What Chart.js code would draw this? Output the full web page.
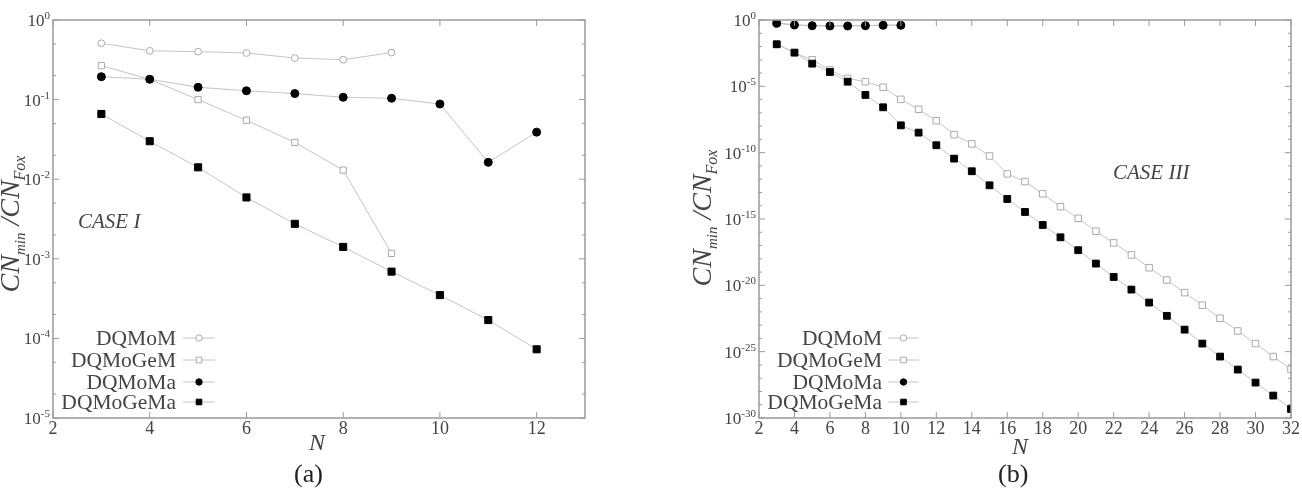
<!DOCTYPE html>
<html>
<head>
<meta charset="utf-8">
<script src="https://cdn.jsdelivr.net/npm/chart.js@4.4.1/dist/chart.umd.min.js"></script>
<style>
  body { margin: 0; background: #fff; width: 1302px; height: 498px; overflow: hidden; position: relative; font-family: "Liberation Serif", serif; }
  .box { position: absolute; top: 0; height: 498px; }
  #boxA { left: 0; width: 600px; }
  #boxB { left: 651px; width: 651px; }
  .cap { position: absolute; top: 459px; font-size: 26px; line-height: 30px; color: #222; font-family: "Liberation Serif", serif; }
</style>
</head>
<body>
<div class="box" id="boxA"><canvas id="chartA"></canvas></div>
<div class="box" id="boxB"><canvas id="chartB"></canvas></div>
<div class="cap" style="left:294px">(a)</div>
<div class="cap" style="left:998px">(b)</div>
<script>
// --- Data: panel (a), CASE I ---
const nA_DQMoM = [3, 4, 5, 6, 7, 8, 9];
const a_DQMoM = [0.51, 0.41, 0.40, 0.385, 0.333, 0.317, 0.39];
const nA_DQMoGeM = [3, 4, 5, 6, 7, 8, 9];
const a_DQMoGeM = [0.267, 0.18, 0.10, 0.055, 0.029, 0.013, 0.00117];
const nA_DQMoMa = [3, 4, 5, 6, 7, 8, 9, 10, 11, 12];
const a_DQMoMa = [0.194, 0.18, 0.143, 0.129, 0.119, 0.107, 0.104, 0.088, 0.0163, 0.039];
const nA_DQMoGeMa = [3, 4, 5, 6, 7, 8, 9, 10, 11, 12];
const a_DQMoGeMa = [0.066, 0.030, 0.0141, 0.0059, 0.00275, 0.00141, 0.00069, 0.00035, 0.00017, 0.000073];

// --- Data: panel (b), CASE III (log10 of the ratio) ---
const nB_short = [3, 4, 5, 6, 7, 8, 9, 10];
const bLog_DQMoM = [-0.22, -0.36, -0.42, -0.44, -0.44, -0.42, -0.39, -0.38];
const bLog_DQMoMa = [-0.25, -0.38, -0.43, -0.45, -0.45, -0.43, -0.40, -0.40];
const nB_long = [3, 4, 5, 6, 7, 8, 9, 10, 11, 12, 13, 14, 15, 16, 17, 18, 19, 20, 21, 22, 23, 24, 25, 26, 27, 28, 29, 30, 31, 32];
const bLog_DQMoGeM = [-1.83, -2.46, -3.0, -3.77, -4.4, -4.65, -5.07, -5.98, -6.73, -7.59, -8.64, -9.34, -10.25, -11.6, -12.18,
  -13.1, -14.07, -14.95, -15.92, -16.8, -17.71, -18.67, -19.6, -20.55, -21.5, -22.48, -23.44, -24.39, -25.37, -26.32];
const bLog_DQMoGeMa = [-1.83, -2.46, -3.29, -3.92, -4.65, -5.65, -6.58, -7.94, -8.49, -9.44, -10.45, -11.4, -12.46, -13.49, -14.47,
  -15.45, -16.38, -17.35, -18.36, -19.37, -20.32, -21.3, -22.3, -23.34, -24.39, -25.37, -26.35, -27.33, -28.31, -29.32];

// --- Axis ticks ---
const xTicksA = [2, 4, 6, 8, 10, 12];
const xTicksB = [2, 4, 6, 8, 10, 12, 14, 16, 18, 20, 22, 24, 26, 28, 30, 32];
const yExpA = [0, -1, -2, -3, -4, -5];
const yExpB = [0, -5, -10, -15, -20, -25, -30];

const seriesNames = ['DQMoM', 'DQMoGeM', 'DQMoMa', 'DQMoGeMa'];

// --- Styles ---
const LINE = '#c4c4c4';
const AXIS = '#9a9a9a';
const TEXT = '#444';
const SERIF = '"Liberation Serif", "Times New Roman", serif';

function pts(xs, ys) { return xs.map((x, i) => ({ x: x, y: ys[i] })); }
function fromLog(arr) { return arr.map(e => Math.pow(10, e)); }

// marker radii per panel: [open circle, open square, filled circle, filled square]
function makeSets(r) {
  return {
    DQMoM: { pointStyle: 'circle', pointRadius: r[0], pointBackgroundColor: '#fff', pointBorderColor: '#aaa', order: 4 },
    DQMoGeM: { pointStyle: 'rect', pointRadius: r[1], pointBackgroundColor: '#fff', pointBorderColor: '#aaa', order: 3 },
    DQMoMa: { pointStyle: 'circle', pointRadius: r[2], pointBackgroundColor: '#000', pointBorderColor: '#000', order: 2 },
    DQMoGeMa: { pointStyle: 'rect', pointRadius: r[3], pointBackgroundColor: '#000', pointBorderColor: '#000', order: 1 }
  };
}

function dataset(name, data, style) {
  return Object.assign({
    label: name,
    data: data,
    showLine: true,
    borderColor: LINE,
    borderWidth: 1,
    pointBorderWidth: 1,
    pointHoverRadius: 0
  }, style);
}

function drawSup(ctx, exp, xRight, y) {
  const base = '10';
  const sup = String(exp);
  ctx.font = '17px ' + SERIF;
  const wb = ctx.measureText(base).width;
  ctx.font = '11px ' + SERIF;
  const ws = ctx.measureText(sup).width;
  ctx.fillStyle = TEXT;
  ctx.textBaseline = 'alphabetic';
  ctx.textAlign = 'left';
  ctx.font = '17px ' + SERIF;
  ctx.fillText(base, xRight - wb - ws, y + 6);
  ctx.font = '11px ' + SERIF;
  ctx.fillText(sup, xRight - ws, y - 1);
}

function drawYTitle(ctx, cx, cy) {
  const segs = [
    ['CN', 'italic 28px ' + SERIF, 0],
    ['min', 'italic 15px ' + SERIF, 6],
    [' /CN', 'italic 28px ' + SERIF, 0],
    ['Fox', 'italic 16px ' + SERIF, 6]
  ];
  ctx.save();
  ctx.translate(cx, cy);
  ctx.rotate(-Math.PI / 2);
  let total = 0;
  segs.forEach(s => { ctx.font = s[1]; total += ctx.measureText(s[0]).width; });
  let x = -total / 2;
  ctx.fillStyle = TEXT;
  ctx.textBaseline = 'alphabetic';
  ctx.textAlign = 'left';
  segs.forEach(s => {
    ctx.font = s[1];
    ctx.fillText(s[0], x, s[2]);
    x += ctx.measureText(s[0]).width;
  });
  ctx.restore();
}

function drawMarker(ctx, style, x, y, r) {
  ctx.beginPath();
  if (style.pointStyle === 'circle') {
    ctx.arc(x, y, r, 0, Math.PI * 2);
  } else {
    ctx.rect(x - r, y - r, 2 * r, 2 * r);
  }
  ctx.fillStyle = style.pointBackgroundColor;
  ctx.fill();
  ctx.strokeStyle = style.pointBorderColor;
  ctx.lineWidth = 1;
  ctx.stroke();
}

// frame, inward ticks, y labels, titles, legend
const decorPlugin = {
  id: 'decor',
  afterDraw(chart, args, opts) {
    const ctx = chart.ctx;
    const a = chart.chartArea;
    const xs = chart.scales.x, ys = chart.scales.y;
    ctx.save();
    ctx.strokeStyle = AXIS;
    ctx.lineWidth = 1.5;
    ctx.strokeRect(a.left, a.top, a.right - a.left, a.bottom - a.top);

    ctx.lineWidth = 1;
    ctx.beginPath();
    opts.xTicks.forEach(v => {
      const px = xs.getPixelForValue(v);
      ctx.moveTo(px, a.bottom); ctx.lineTo(px, a.bottom - 6);
      ctx.moveTo(px, a.top); ctx.lineTo(px, a.top + 6);
    });
    opts.yExp.forEach(e => {
      const py = ys.getPixelForValue(Math.pow(10, e));
      ctx.moveTo(a.left, py); ctx.lineTo(a.left + 6, py);
      ctx.moveTo(a.right, py); ctx.lineTo(a.right - 6, py);
    });
    opts.yMinor.forEach(v => {
      const py = ys.getPixelForValue(v);
      ctx.moveTo(a.left, py); ctx.lineTo(a.left + 3, py);
      ctx.moveTo(a.right, py); ctx.lineTo(a.right - 3, py);
    });
    ctx.stroke();

    opts.yExp.forEach(e => {
      drawSup(ctx, e, a.left - 3, ys.getPixelForValue(Math.pow(10, e)));
    });

    drawYTitle(ctx, opts.yTitle[0], opts.yTitle[1]);

    ctx.fillStyle = TEXT;
    ctx.font = 'italic 24px ' + SERIF;
    ctx.textAlign = 'center';
    ctx.textBaseline = 'middle';
    ctx.fillText('N', opts.nTitle[0], opts.nTitle[1]);

    ctx.font = 'italic 21px ' + SERIF;
    ctx.textAlign = 'left';
    ctx.fillText(opts.caseText, opts.casePos[0], opts.casePos[1]);

    const lg = opts.legend;
    const styles = makeSets([3, 3, 3, 3]);
    seriesNames.forEach((name, i) => {
      const y = lg.rows[i];
      ctx.font = '21.5px ' + SERIF;
      ctx.fillStyle = TEXT;
      ctx.textAlign = 'right';
      ctx.textBaseline = 'middle';
      ctx.fillText(name, lg.textRight, y + 1);
      ctx.strokeStyle = LINE;
      ctx.lineWidth = 1;
      ctx.beginPath();
      ctx.moveTo(lg.lx1, y); ctx.lineTo(lg.lx2, y);
      ctx.stroke();
      const st = styles[name];
      drawMarker(ctx, st, (lg.lx1 + lg.lx2) / 2, y, st.pointStyle === 'circle' ? 3.2 : 2.8);
    });
    ctx.restore();
  }
};

function baseOptions(xMin, xMax, xTicks, yMin, yMax, yWidth, padRight, decor) {
  return {
    responsive: true,
    maintainAspectRatio: false,
    animation: false,
    layout: { padding: { top: 20, right: padRight, left: 0, bottom: 0 } },
    plugins: { legend: { display: false }, tooltip: { enabled: false }, decor: decor },
    scales: {
      x: {
        type: 'linear', min: xMin, max: xMax,
        afterBuildTicks: s => { s.ticks = xTicks.map(v => ({ value: v })); },
        afterFit: s => { s.height = 80; },
        grid: { display: false, drawTicks: false },
        border: { display: false },
        ticks: { color: TEXT, font: { family: SERIF, size: 18 }, padding: 0, maxRotation: 0, autoSkip: false }
      },
      y: {
        type: 'logarithmic', min: yMin, max: yMax,
        afterFit: s => { s.width = yWidth; },
        grid: { display: false, drawTicks: false },
        border: { display: false },
        ticks: { display: false }
      }
    }
  };
}

// --- Panel (a) ---
const stA = makeSets([3.4, 4.4, 4, 5]);
const minorA = [];
yExpA.slice(1).forEach(e => { minorA.push(2 * Math.pow(10, e), 5 * Math.pow(10, e)); });
new Chart(document.getElementById('chartA'), {
  type: 'scatter',
  data: {
    datasets: [
      dataset('DQMoM', pts(nA_DQMoM, a_DQMoM), stA.DQMoM),
      dataset('DQMoGeM', pts(nA_DQMoGeM, a_DQMoGeM), stA.DQMoGeM),
      dataset('DQMoMa', pts(nA_DQMoMa, a_DQMoMa), stA.DQMoMa),
      dataset('DQMoGeMa', pts(nA_DQMoGeMa, a_DQMoGeMa), stA.DQMoGeMa)
    ]
  },
  options: baseOptions(2, 13, xTicksA, 1e-5, 1, 53, 15, {
    xTicks: xTicksA, yExp: yExpA, yMinor: minorA,
    yTitle: [19, 224], nTitle: [317, 444],
    caseText: 'CASE I', casePos: [78, 222],
    legend: { textRight: 176, lx1: 183, lx2: 215, rows: [338, 360, 382, 402] }
  }),
  plugins: [decorPlugin]
});

// --- Panel (b) ---
const stB = makeSets([3.6, 4.6, 4, 4.8]);
const minorB = [];
for (let e = -1; e > -30; e--) { if (e % 5 !== 0) minorB.push(Math.pow(10, e)); }
new Chart(document.getElementById('chartB'), {
  type: 'scatter',
  data: {
    datasets: [
      dataset('DQMoM', pts(nB_short, fromLog(bLog_DQMoM)), stB.DQMoM),
      dataset('DQMoGeM', pts(nB_long, fromLog(bLog_DQMoGeM)), stB.DQMoGeM),
      dataset('DQMoMa', pts(nB_short, fromLog(bLog_DQMoMa)), stB.DQMoMa),
      dataset('DQMoGeMa', pts(nB_long, fromLog(bLog_DQMoGeMa)), stB.DQMoGeMa)
    ]
  },
  options: baseOptions(2, 32, xTicksB, 1e-30, 1, 108, 11, {
    xTicks: xTicksB, yExp: yExpB, yMinor: minorB,
    yTitle: [60, 218], nTitle: [369, 448],
    caseText: 'CASE III', casePos: [462, 173],
    legend: { textRight: 231, lx1: 237, lx2: 268, rows: [338, 360, 382, 402] }
  }),
  plugins: [decorPlugin]
});
</script>
</body>
</html>
